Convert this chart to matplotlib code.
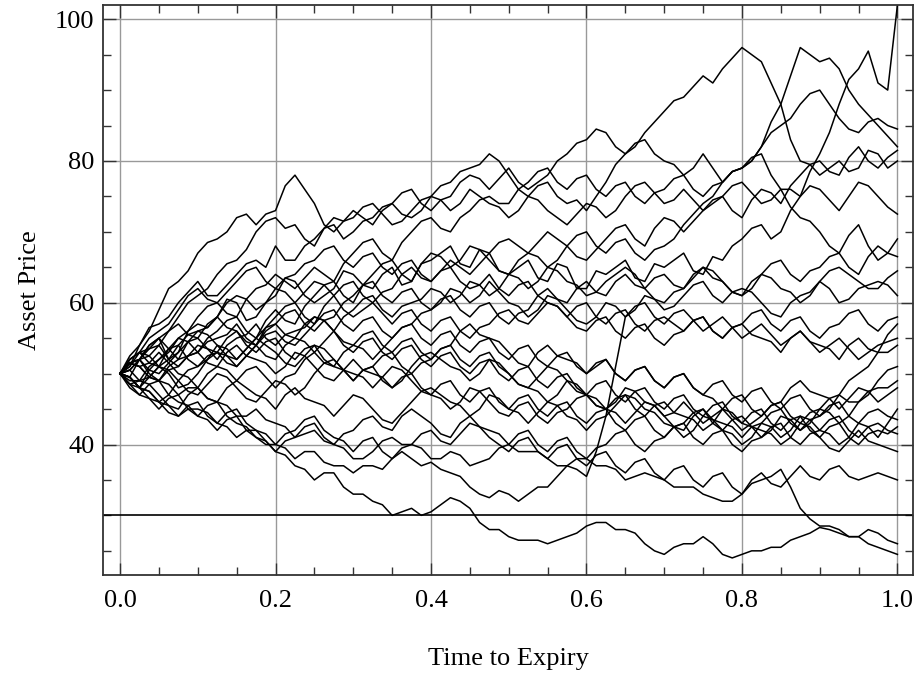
import numpy as np
import matplotlib
matplotlib.use("Agg")
import matplotlib.pyplot as plt
from matplotlib.ticker import MultipleLocator

# time grid: 81 steps of 0.0125
t = [i / 80 for i in range(81)]

# asset price paths: values at t = 0, 0.025, ... 1.0 ("_a")
# and the values half-way between them ("_m")
p01_a = [50, 52, 55, 53, 57, 58, 60, 58, 61, 63, 60, 62, 64, 62, 65, 63, 66, 68, 65, 67, 64,
         66, 63, 65, 62, 64, 66, 63, 65, 67, 64, 66, 69, 71, 70, 75, 81, 88, 93, 91, 102]
p01_m = [49.5, 54, 52, 56, 56.5, 60.5, 57.5, 60, 63.5, 61, 61, 64.5, 62.5, 64, 62.5, 65.5, 67, 65.5, 67.5, 64.5,
         65, 63.5, 65.5, 62, 64.5, 65, 63.5, 65.5, 66, 64.5, 66.5, 68, 70.5, 69, 73, 78.5, 84, 91.5, 95.5, 90]
p02_a = [50, 54, 57, 60, 63, 61, 64, 66, 68, 66, 69, 71, 70, 72, 74, 72, 75, 77, 79, 81, 78,
         75, 77, 74, 73, 77, 81, 84, 87, 89, 92, 93, 96, 94, 88, 80, 78, 80, 79, 81, 80]
p02_m = [51, 56.5, 58, 61.5, 61, 62.5, 65.5, 65, 66, 68, 70.5, 69, 71.5, 73.5, 72.5, 73, 76.5, 78.5, 79.5, 80,
         76, 76.5, 75, 74.5, 75, 79.5, 82, 85.5, 88.5, 90.5, 91, 94.5, 95, 91, 83, 79.5, 79, 78.5, 81.5, 79]
p03_a = [50, 53, 51, 55, 58, 60, 58, 62, 64, 62, 65, 63, 67, 69, 66, 70, 72, 70, 73, 75, 74,
         77, 79, 76, 78, 75, 77, 74, 76, 78, 75, 77, 79, 82, 88, 96, 94, 93, 88, 85, 82]
p03_m = [52, 51.5, 53.5, 56, 59.5, 58.5, 60.5, 62.5, 63, 63.5, 64, 65.5, 68.5, 67, 68.5, 71.5, 70.5, 72, 74.5, 74,
         76, 78.5, 77, 77.5, 76, 76.5, 75, 75.5, 77.5, 76, 76.5, 78.5, 80, 85.5, 92, 95, 94.5, 90, 86.5, 83.5]
p04_a = [50, 52, 55, 58, 61, 64, 66, 70, 72, 71, 68, 72, 73, 71, 74, 76, 73, 75, 78, 76, 79,
         76, 78, 81, 83, 84, 81, 83, 80, 78, 81, 77, 79, 82, 85, 88, 90, 86, 84, 86, 84.5]
p04_m = [50.5, 54, 56, 60, 62, 65.5, 67.5, 71.5, 70.5, 69, 70.5, 71.5, 72, 73, 75.5, 74, 74.5, 77, 77.5, 77.5,
         77, 77, 80, 82.5, 84.5, 82, 82.5, 81, 79.5, 79, 79, 78.5, 80, 84, 86, 89.5, 88, 84.5, 85.5, 85]
p05_a = [50, 54, 59, 63, 67, 69, 72, 71, 73, 78, 74, 70, 72, 74, 71, 73, 75, 73, 76, 74, 72,
         75, 73, 71, 74, 72, 75, 77, 74, 76, 73, 75, 77, 74, 76, 75, 76, 73, 77, 75, 72.5]
p05_m = [52.5, 56, 62, 64.5, 68.5, 70, 72.5, 72.5, 76.5, 76, 71, 71.5, 73.5, 72.5, 71.5, 74.5, 74.5, 74, 75, 73.5,
         73, 74.5, 72, 72.5, 73.5, 73, 76.5, 75.5, 74.5, 74.5, 74, 76.5, 75.5, 74.5, 76, 76.5, 74.5, 75, 76.5, 73.5]
p06_a = [50, 48, 52, 55, 53, 56, 58, 55, 59, 57, 61, 63, 60, 64, 66, 63, 67, 65, 68, 66, 64,
         67, 65, 68, 70, 67, 69, 66, 68, 71, 74, 77, 79, 81, 76, 72, 70, 67, 71, 66, 69]
p06_m = [48.5, 50.5, 53, 54.5, 55, 57.5, 56, 57.5, 57.5, 59.5, 62.5, 61, 62.5, 65.5, 64, 65.5, 66.5, 66, 67.5, 64.5,
         66, 66.5, 66, 69.5, 68, 68.5, 67, 67.5, 69, 72.5, 75, 78.5, 80.5, 78, 73.5, 71.5, 68, 69.5, 68, 67]
p07_a = [50, 51, 49, 52, 54, 52, 55, 57, 54, 56, 58, 56, 59, 61, 58, 60, 62, 60, 63, 61, 64,
         62, 65, 63, 61, 63, 65, 62, 64, 62, 65, 63, 61, 64, 62, 60, 63, 65, 63, 62, 64.5]
p07_m = [51.5, 49.5, 51, 52.5, 53.5, 54, 55.5, 55, 55.5, 56.5, 57.5, 58, 60.5, 59, 59.5, 60.5, 61.5, 61, 62.5, 62,
         63.5, 63, 64.5, 62.5, 61.5, 64, 64, 63.5, 62.5, 63.5, 64.5, 61.5, 62, 63.5, 61.5, 61, 64.5, 64, 62, 63.5]
p08_a = [50, 49, 51, 48, 50, 53, 51, 54, 56, 54, 57, 59, 56, 58, 55, 57, 59, 62, 60, 63, 60,
         58, 61, 59, 57, 60, 58, 61, 59, 61, 63, 60, 62, 60, 58, 61, 63, 60, 62, 63, 61]
p08_m = [50.5, 49.5, 50, 48.5, 52, 51.5, 52.5, 55.5, 54.5, 55.5, 58.5, 57, 57.5, 56, 56.5, 58.5, 60, 61.5, 61, 61.5,
         59.5, 59, 60.5, 57.5, 58, 59.5, 59, 60.5, 59.5, 62.5, 61, 61.5, 61.5, 58.5, 60, 61.5, 62, 60.5, 62.5, 62.5]
p09_a = [50, 53, 56, 59, 62, 60, 63, 65, 62, 64, 66, 68, 65, 67, 64, 66, 63, 65, 62, 64, 61,
         63, 60, 58, 60, 57, 59, 56, 58, 56, 58, 55, 57, 59, 56, 58, 55, 57, 59, 56, 58]
p09_m = [51, 55, 57, 61, 60.5, 61.5, 64.5, 63, 63.5, 65.5, 67.5, 66, 66.5, 65, 65.5, 64, 64.5, 63, 62.5, 62,
         62.5, 61, 59.5, 59.5, 58, 58.5, 57, 57.5, 57, 57.5, 56, 56.5, 58.5, 57, 57.5, 56, 56.5, 58.5, 57, 57.5]
p10_a = [50, 52, 50, 53, 55, 53, 51, 54, 52, 55, 53, 56, 54, 52, 55, 57, 54, 56, 53, 55, 52,
         54, 51, 53, 50, 52, 49, 51, 48, 50, 47, 49, 46, 48, 45, 47, 44, 47, 50, 53, 57]
p10_m = [51.5, 50.5, 51.5, 54.5, 53.5, 52.5, 52.5, 52.5, 54, 54.5, 54.5, 54.5, 53.5, 53.5, 56.5, 55, 55.5, 54, 54.5, 53,
         53.5, 52, 52.5, 51, 51.5, 50, 50.5, 49, 49.5, 48, 48.5, 47, 47.5, 46, 46.5, 45, 45, 49, 51, 55.5]
p11_a = [50, 47, 49, 46, 44, 46, 43, 41, 40, 38, 39, 37, 36, 37, 38, 38, 37.5, 36, 34, 32.5, 33,
         33, 34, 37, 35.5, 44, 58, 60, 57, 59, 56, 58, 55, 57, 54, 56, 53, 55, 52, 54, 55]
p11_m = [48.5, 48.5, 47, 45.5, 45.5, 44, 42.5, 40, 39.5, 39, 37.5, 37, 37, 36.5, 39, 37, 36.5, 35.5, 33, 33.5,
         32, 34, 35.5, 36.5, 39, 51, 59.5, 58, 58.5, 57.5, 57, 56.5, 56, 55.5, 55, 54.5, 54, 53.5, 53, 54.5]
p12_a = [50, 53, 55, 52, 56, 58, 61, 59, 62, 60, 63, 61, 58, 60, 57, 59, 56, 58, 55, 57, 59,
         57, 60, 58, 56, 58, 55, 57, 54, 56, 58, 55, 57, 55, 53, 56, 54, 52, 55, 53, 54]
p12_m = [52, 53.5, 53.5, 54.5, 56.5, 60, 60.5, 60, 61.5, 61.5, 62.5, 59, 59, 58.5, 58.5, 57, 57.5, 56, 56.5, 58.5,
         57.5, 58.5, 59.5, 56.5, 57.5, 56, 56.5, 55, 55.5, 57.5, 56, 56.5, 55.5, 54.5, 55, 54.5, 53.5, 54, 53.5, 53]
p13_a = [50, 48, 51, 49, 47, 50, 48, 46, 49, 47, 50, 52, 49, 51, 53, 50, 52, 54, 51, 53, 50,
         48, 51, 49, 47, 45, 48, 46, 44, 46, 43, 45, 42, 44, 46, 43, 45, 47, 46, 49, 51]
p13_m = [49.5, 49.5, 50.5, 47.5, 48.5, 49.5, 46.5, 47.5, 48.5, 48, 51.5, 50.5, 50.5, 52.5, 51, 51.5, 53.5, 52, 52.5, 51,
         48.5, 49.5, 50.5, 47.5, 46.5, 46, 47.5, 45.5, 44.5, 44.5, 44, 43.5, 43, 45.5, 44, 44.5, 46.5, 46, 47, 50.5]
p14_a = [50, 52, 49, 51, 53, 51, 54, 52, 50, 53, 51, 49, 52, 50, 48, 51, 53, 51, 49, 52, 50,
         48, 46, 49, 47, 45, 47, 44, 46, 44, 42, 45, 43, 41, 44, 42, 45, 43, 46, 48, 49]
p14_m = [51.5, 50, 50.5, 52.5, 51.5, 53, 52.5, 51.5, 51, 52.5, 49.5, 50.5, 50.5, 49.5, 49, 52.5, 52, 50.5, 50, 51.5,
         48.5, 47.5, 47, 48.5, 45.5, 46.5, 45, 45.5, 44.5, 43.5, 43, 44.5, 42.5, 42, 43.5, 43, 44.5, 44, 47.5, 48]
p15_a = [50, 49, 47, 45, 48, 46, 49, 51, 48, 50, 53, 51, 54, 56, 53, 55, 52, 54, 57, 55, 53,
         51, 54, 52, 50, 52, 49, 51, 48, 50, 47, 45, 47, 44, 46, 49, 47, 45, 48, 46, 48]
p15_m = [48.5, 48.5, 45.5, 47, 46.5, 48, 50.5, 49.5, 49.5, 52, 51.5, 53, 55.5, 54, 54.5, 53, 53.5, 56, 55.5, 54.5,
         51.5, 53, 52.5, 51.5, 51, 50, 50.5, 49, 49.5, 48, 46.5, 46.5, 45, 45.5, 48, 47.5, 46.5, 46.5, 47.5, 47]
p16_a = [50, 51, 53, 50, 48, 51, 49, 47, 45, 48, 46, 44, 47, 45, 43, 46, 48, 46, 44, 47, 45,
         43, 46, 44, 42, 44, 47, 45, 43, 41, 44, 42, 40, 43, 41, 44, 42, 40, 43, 41, 45]
p16_m = [51.5, 51.5, 51.5, 49.5, 50, 50.5, 48, 46.5, 47, 46.5, 45.5, 45.5, 46.5, 43.5, 44.5, 47.5, 47, 45.5, 45, 46.5,
         44.5, 44.5, 45.5, 43.5, 43.5, 45.5, 46.5, 44.5, 42.5, 42, 43.5, 41.5, 41, 42.5, 42, 43.5, 41.5, 41, 42.5, 43]
p17_a = [50, 48, 46, 49, 51, 54, 52, 55, 57, 55, 58, 56, 53, 55, 52, 54, 51, 53, 50, 52, 49,
         51, 48, 50, 47, 49, 46, 48, 45, 47, 44, 46, 43, 45, 42, 44, 41, 43, 40, 42, 42.5]
p17_m = [49.5, 47.5, 47, 50.5, 52, 53.5, 53.5, 56.5, 55.5, 57, 57.5, 54, 54.5, 53, 53.5, 52, 52.5, 51, 51.5, 50,
         50.5, 49, 49.5, 48, 48.5, 47, 47.5, 46, 46.5, 45, 45.5, 44, 44.5, 43, 43.5, 42, 42.5, 41, 41.5, 41.5]
p18_a = [50, 47, 45, 47, 44, 42, 44, 41, 39, 41, 43, 40, 42, 44, 42, 45, 43, 41, 44, 42, 40,
         42, 39, 41, 38, 40, 42, 39, 41, 43, 40, 42, 39, 41, 43, 40, 42, 44, 41, 43, 41.5]
p18_m = [48, 46.5, 46.5, 45, 43.5, 43.5, 42, 40.5, 40.5, 42.5, 41, 41.5, 43.5, 42.5, 44, 44, 41.5, 43, 42.5, 41.5,
         41.5, 40, 40.5, 39, 39.5, 41.5, 40, 40.5, 42.5, 41, 41.5, 40, 40.5, 42.5, 41, 41.5, 43.5, 42, 42.5, 42]
p19_a = [50, 53, 51, 54, 56, 54, 52, 55, 53, 51, 54, 52, 50, 48, 51, 49, 47, 49, 46, 48, 45,
         47, 44, 46, 43, 45, 42, 44, 41, 43, 45, 42, 44, 42, 40, 43, 41, 39, 42, 40, 39]
p19_m = [52, 52.5, 52, 55.5, 55.5, 52.5, 53.5, 54, 51.5, 52.5, 53.5, 50.5, 49.5, 49.5, 50.5, 47.5, 48.5, 47, 47.5, 46,
         46.5, 45, 45.5, 44, 44.5, 43, 43.5, 42, 42.5, 44.5, 43, 43.5, 42.5, 41.5, 41, 42.5, 39.5, 40.5, 40.5, 39.5]
p20_a = [50, 48, 46, 44, 46, 43, 45, 42, 40, 42, 44, 41, 39, 41, 38, 40, 42, 40, 43, 41, 39,
         41, 38, 40, 37, 39, 36, 38, 35, 37, 34, 36, 33, 36, 34, 37, 35, 37, 35, 36, 35]
p20_m = [49.5, 46.5, 45.5, 45.5, 44, 44.5, 43, 41.5, 41.5, 43.5, 42, 40.5, 40.5, 39, 39.5, 41.5, 40.5, 41.5, 42.5, 40,
         40.5, 39, 39.5, 38, 38.5, 37, 37.5, 36, 36.5, 35, 35.5, 34, 35, 34.5, 35.5, 35.5, 36.5, 35.5, 35.5, 35.5]
p21_a = [50, 48, 46, 44, 45, 43, 41, 42, 39, 37, 35, 36, 33, 32, 30, 31, 30.5, 32.5, 31, 28, 27,
         26.5, 26, 27, 28.5, 29, 28, 26, 24.5, 26, 27, 24.5, 24.5, 25, 25.5, 27, 28.3, 27.5, 27, 25.5, 24.5]
p21_m = [49.5, 47.5, 44.5, 45, 44.5, 42.5, 42, 40.5, 38.5, 36.5, 36, 34, 33, 31.5, 30.5, 30, 31.5, 32, 29, 28,
         26.5, 26.5, 26.5, 27.5, 29, 28, 27.5, 25, 25.5, 26, 26, 24, 25, 25.5, 26.5, 27.5, 28, 27, 26, 25]
p22_a = [50, 51, 49, 47, 48, 46, 44, 45, 43, 41, 42, 40, 38, 39, 41, 40, 38, 39, 37, 38, 40,
         39, 38, 37, 38, 37, 35, 36, 35, 34, 33, 32, 33, 35, 36.5, 31, 28.5, 28, 27, 27.5, 26]
p22_m = [51.5, 49.5, 48.5, 48, 46.5, 45.5, 44, 43.5, 42.5, 41.5, 40.5, 39.5, 38, 40.5, 40, 39.5, 38, 38.5, 37.5, 39.5,
         39, 39, 37, 38, 37, 36.5, 35.5, 35.5, 34, 34, 32.5, 32, 34.5, 35.5, 34, 29.5, 28.5, 27, 28, 26.5]
p23_a = [50, 52, 54, 51, 53, 55, 57, 54, 58, 60, 57, 61, 63, 60, 62, 65, 63, 66, 64, 67, 69,
         67, 70, 68, 66, 69, 71, 68, 72, 70, 73, 75, 72, 76, 74, 78, 80, 78, 82, 79, 81.5]
p23_m = [50.5, 53.5, 52, 52.5, 54.5, 55.5, 55, 56.5, 59.5, 58, 59.5, 62.5, 61, 61.5, 64, 63.5, 64.5, 65, 65.5, 68.5,
         68, 68.5, 69, 66.5, 67.5, 70.5, 69, 70.5, 71.5, 71.5, 74.5, 73, 74.5, 75.5, 76.5, 79.5, 78.5, 80.5, 80, 80.5]
p24_a = [50, 49, 52, 54, 51, 53, 56, 54, 57, 59, 56, 58, 61, 63, 60, 62, 59, 61, 58, 60, 57,
         59, 62, 60, 63, 61, 64, 62, 60, 62, 65, 63, 61, 64, 66, 63, 65, 67, 64, 68, 66.5]
p24_m = [49, 51, 53.5, 52, 52.5, 55, 54.5, 56, 58.5, 57, 57.5, 60, 62.5, 61, 61.5, 60, 60.5, 59, 59.5, 58,
         58.5, 61, 60.5, 62, 61.5, 63, 62.5, 60.5, 61.5, 64, 63.5, 61.5, 63, 65.5, 64, 64.5, 66.5, 65, 66.5, 67]
p25_a = [50, 52, 54, 57, 55, 58, 56, 53, 55, 52, 54, 51, 49, 51, 48, 50, 47, 45, 48, 46, 44,
         46, 43, 45, 47, 45, 43, 46, 44, 42, 45, 43, 41, 43, 45, 42, 44, 46, 43, 45, 43.5]
p25_m = [51.5, 52.5, 56, 55.5, 57, 56.5, 54, 54.5, 53, 53.5, 52, 50.5, 50.5, 49, 49.5, 48, 46.5, 46, 47.5, 44.5,
         45.5, 44, 44.5, 46.5, 45.5, 44.5, 44.5, 45.5, 42.5, 44, 43.5, 42.5, 42.5, 44.5, 43, 43.5, 45.5, 44, 44.5, 44]

knots = [p01_a, p02_a, p03_a, p04_a, p05_a, p06_a, p07_a, p08_a, p09_a, p10_a, p11_a, p12_a, p13_a,
         p14_a, p15_a, p16_a, p17_a, p18_a, p19_a, p20_a, p21_a, p22_a, p23_a, p24_a, p25_a]
halves = [p01_m, p02_m, p03_m, p04_m, p05_m, p06_m, p07_m, p08_m, p09_m, p10_m, p11_m, p12_m, p13_m,
          p14_m, p15_m, p16_m, p17_m, p18_m, p19_m, p20_m, p21_m, p22_m, p23_m, p24_m, p25_m]
barrier = 30

plt.rcParams["font.family"] = ["Liberation Serif", "DejaVu Serif"]

fig = plt.figure(figsize=(9.16, 6.78), dpi=100)
ax = fig.add_axes([0.1124, 0.152, 0.8843, 0.8406])

for a, m in zip(knots, halves):
    path = np.empty(len(t))
    path[0::2] = a
    path[1::2] = m
    ax.plot(t, path, color="black", lw=1.1)
ax.axhline(barrier, color="black", lw=1.2)

ax.set_xlim(-0.022, 1.02)
ax.set_ylim(21.6, 102)
ax.xaxis.set_major_locator(MultipleLocator(0.2))
ax.xaxis.set_minor_locator(MultipleLocator(0.05))
ax.yaxis.set_major_locator(MultipleLocator(20))
ax.yaxis.set_minor_locator(MultipleLocator(5))
ax.xaxis.set_major_formatter(plt.FormatStrFormatter("%.1f"))
ax.grid(True, which="major", color="#999999", lw=1.0)
ax.set_axisbelow(True)

ax.tick_params(which="both", direction="in", top=True, right=True,
               labelsize=19, colors="#333333", labelcolor="black")
ax.tick_params(which="major", length=9, width=1.0)
ax.tick_params(which="minor", length=5.5, width=1.0)
ax.tick_params(axis="x", pad=11)
ax.tick_params(axis="y", pad=6)
for s in ax.spines.values():
    s.set_color("#333333")
    s.set_linewidth(1.3)

ax.set_xlabel("Time to Expiry", fontsize=19, labelpad=26)
ax.set_ylabel("Asset Price", fontsize=19, labelpad=10)

plt.savefig("out.png", dpi=100)
